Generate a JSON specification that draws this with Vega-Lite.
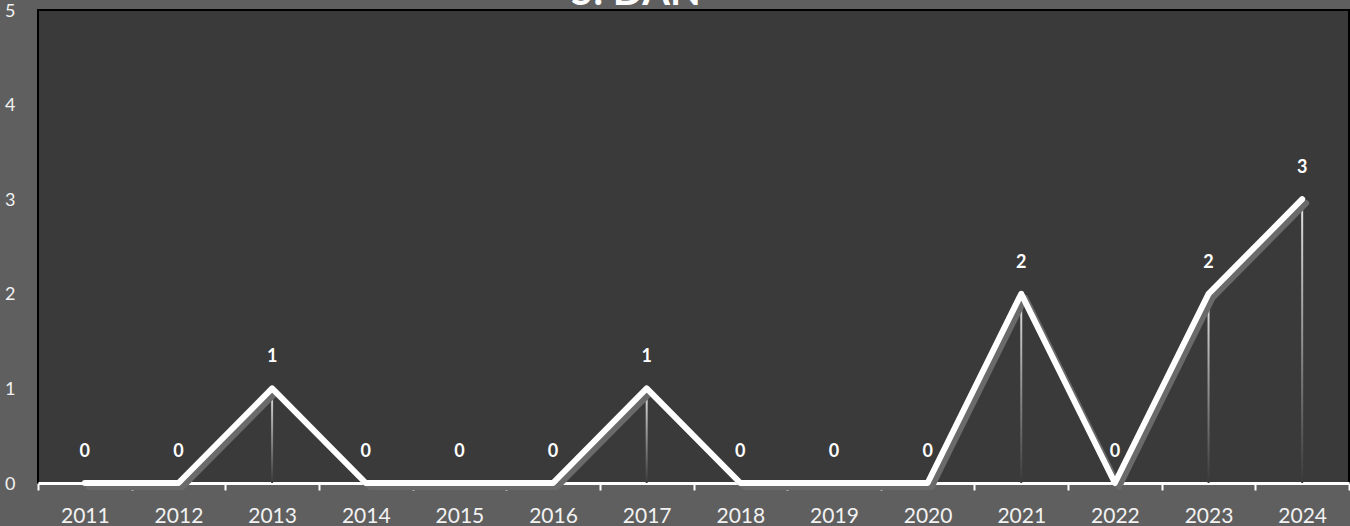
{
  "$schema": "https://vega.github.io/schema/vega-lite/v6.json",
  "autosize": "none",
  "width": 1311,
  "height": 473,
  "padding": {"left": 38, "top": 10, "right": 1, "bottom": 43},
  "background": "#5f5f5f",
  "config": {
    "view": {"fill": "#3a3a3a", "stroke": "#000000", "strokeWidth": 2},
    "font": "Lato"
  },
  "title": {
    "text": "5. DAN",
    "font": "Lato",
    "fontSize": 40,
    "fontWeight": "bold",
    "color": "#ffffff",
    "anchor": "middle",
    "frame": "group",
    "offset": -11,
    "dx": -58
  },
  "data": {
    "values": [
      {"year": "2011", "value": 0},
      {"year": "2012", "value": 0},
      {"year": "2013", "value": 1},
      {"year": "2014", "value": 0},
      {"year": "2015", "value": 0},
      {"year": "2016", "value": 0},
      {"year": "2017", "value": 1},
      {"year": "2018", "value": 0},
      {"year": "2019", "value": 0},
      {"year": "2020", "value": 0},
      {"year": "2021", "value": 2},
      {"year": "2022", "value": 0},
      {"year": "2023", "value": 2},
      {"year": "2024", "value": 3}
    ]
  },
  "encoding": {
    "x": {
      "field": "year",
      "type": "ordinal",
      "scale": {"type": "band", "paddingInner": 0, "paddingOuter": 0},
      "axis": {
        "title": null,
        "labelAngle": 0,
        "labelFont": "Lato",
        "labelFontSize": 21,
        "labelColor": "#f2f2f2",
        "labelBaseline": "alphabetic",
        "labelPadding": 32,
        "domainColor": "#ffffff",
        "domainWidth": 3,
        "tickColor": "#ffffff",
        "tickWidth": 2,
        "tickSize": 7,
        "tickBand": "extent",
        "grid": false
      }
    },
    "y": {
      "field": "value",
      "type": "quantitative",
      "scale": {"domain": [0, 5], "nice": false},
      "axis": {
        "title": null,
        "values": [0, 1, 2, 3, 4, 5],
        "labelFont": "Lato",
        "labelFontSize": 18,
        "labelColor": "#f2f2f2",
        "labelPadding": 23,
        "labelOffset": 1,
        "ticks": false,
        "tickSize": 0,
        "domain": false,
        "grid": false
      }
    }
  },
  "layer": [
    {
      "mark": {
        "type": "bar",
        "size": 2,
        "color": {
          "gradient": "linear",
          "x1": 0, "y1": 0, "x2": 0, "y2": 1,
          "stops": [
            {"offset": 0, "color": "#e6e6e6"},
            {"offset": 1, "color": "#3a3a3a"}
          ]
        }
      },
      "encoding": {"y2": {"datum": 0}}
    },
    {
      "mark": {"type": "line", "color": "#6a6a6a", "strokeWidth": 6, "strokeCap": "round", "strokeJoin": "round", "xOffset": 4, "yOffset": 4}
    },
    {
      "mark": {"type": "line", "color": "#ffffff", "strokeWidth": 6, "strokeCap": "round", "strokeJoin": "round"}
    },
    {
      "mark": {"type": "text", "font": "Lato", "fontSize": 18, "fontWeight": "bold", "color": "#ffffff", "baseline": "alphabetic", "dy": -26},
      "encoding": {"text": {"field": "value", "type": "quantitative"}}
    }
  ]
}
